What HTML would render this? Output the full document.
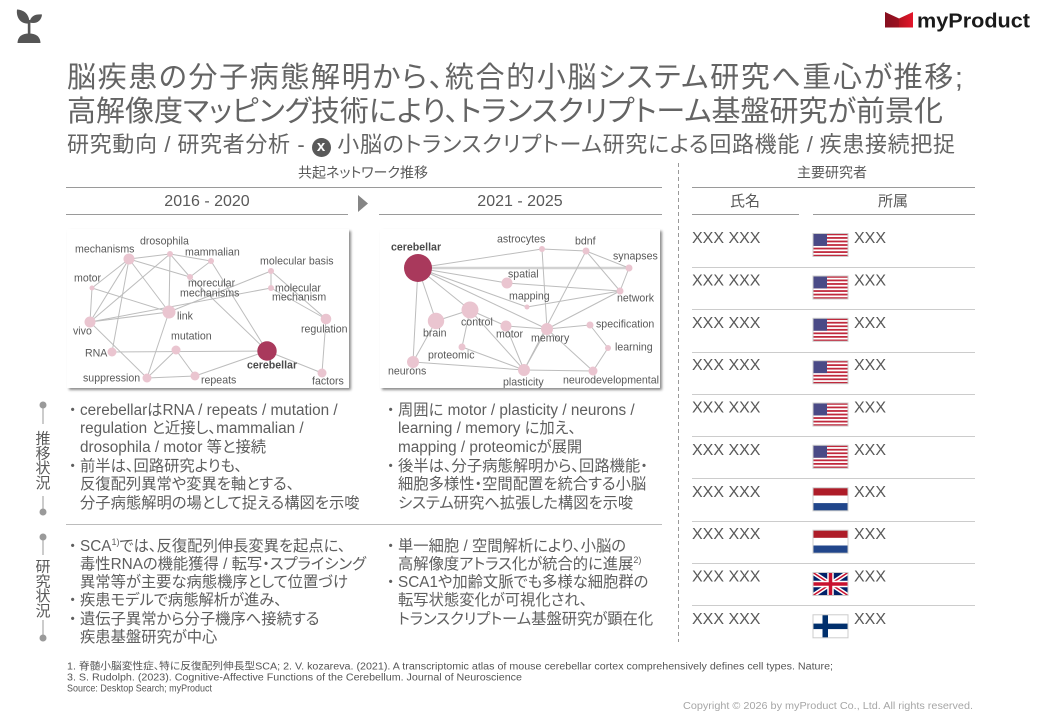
<!DOCTYPE html>
<html><head><meta charset="utf-8">
<style>
*{margin:0;padding:0;box-sizing:border-box}
html,body{width:1040px;height:720px;background:#fff;overflow:hidden}
body{position:relative;font-family:"Liberation Sans","Noto Sans CJK JP",sans-serif;color:#595959;font-feature-settings:"palt"}
.t{position:absolute;white-space:nowrap;text-align:justify;text-align-last:justify;color:#646464}
.blk{position:absolute;font-size:15.3px;color:#5e5e5e}
.blk div{position:relative;white-space:nowrap}
.b{position:absolute;left:-15px;width:15px;text-align:center;font-feature-settings:normal}
sup{font-size:9px;line-height:0;vertical-align:6px}
.xc{display:inline-block;width:19px;height:19px;border-radius:50%;background:#595959;color:#fff;font-size:15px;line-height:18px;text-align:center;font-weight:bold;vertical-align:1px;text-align-last:center}
</style></head><body>
<svg width="1040" height="720" style="position:absolute;left:0;top:0" xmlns="http://www.w3.org/2000/svg">
<defs>
<filter id="sh" x="-5%" y="-5%" width="115%" height="120%"><feDropShadow dx="2" dy="2" stdDeviation="1.3" flood-color="#000" flood-opacity="0.45"/></filter>
<linearGradient id="lg" x1="0" x2="1" y1="0" y2="0"><stop offset="0" stop-color="#7e0f1e"/><stop offset="0.5" stop-color="#b5121f"/><stop offset="1" stop-color="#e3162b"/></linearGradient>
<g id="us"><rect width="35" height="23" fill="#fff"/>
<g fill="#c0283c"><rect y="0" width="35" height="1.77"/><rect y="3.54" width="35" height="1.77"/><rect y="7.08" width="35" height="1.77"/><rect y="10.62" width="35" height="1.77"/><rect y="14.15" width="35" height="1.77"/><rect y="17.69" width="35" height="1.77"/><rect y="21.23" width="35" height="1.77"/></g>
<rect width="14" height="12.4" fill="#4a4a86"/><rect x="0" y="0" width="35" height="23" fill="none" stroke="#ccc" stroke-width="1"/></g>
<g id="nl"><rect width="35" height="7.7" fill="#ae1c28"/><rect y="7.7" width="35" height="7.6" fill="#fff"/><rect y="15.3" width="35" height="7.7" fill="#21468b"/><rect width="35" height="23" fill="none" stroke="#ccc"/></g>
<g id="uk"><rect width="35" height="23" fill="#012169"/><path d="M0,0L35,23M35,0L0,23" stroke="#fff" stroke-width="4.5"/><path d="M0,0L35,23M35,0L0,23" stroke="#c8102e" stroke-width="1.5"/><path d="M17.5,0V23M0,11.5H35" stroke="#fff" stroke-width="6.5"/><path d="M17.5,0V23M0,11.5H35" stroke="#c8102e" stroke-width="3.5"/><rect width="35" height="23" fill="none" stroke="#ccc"/></g>
<g id="fi"><rect width="35" height="23" fill="#fff"/><rect x="9.5" width="5.5" height="23" fill="#002f6c"/><rect y="8.8" width="35" height="5.5" fill="#002f6c"/><rect width="35" height="23" fill="none" stroke="#ccc"/></g>
</defs>
<!-- sprout icon -->
<g fill="#555">
<path d="M17.5,43 Q18,33.5 29,33.5 Q40,33.5 40.5,43 Z"/>
<rect x="27.8" y="20" width="2.6" height="15"/>
<path d="M29.5,23.5 C20,24.5 16,17 17,9.5 C25,10 29.5,15 29.5,23.5 Z"/>
<path d="M29.5,22.5 C30.5,16 35,14 42,14.5 C41.5,21 36,24.5 29.5,22.5 Z"/>
</g>
<!-- logo -->
<polygon points="885,12 899,18.5 913,12 913,27.5 885,27.5" fill="url(#lg)"/>
<polygon points="899,18.5 899,27.5 885,27.5 885,12" fill="#8a1020" opacity="0.55"/>
<text x="917" y="27.5" font-family="Liberation Sans" font-weight="bold" font-size="20" fill="#1a1a1a" textLength="113" lengthAdjust="spacingAndGlyphs">myProduct</text>

<!-- headers -->
<g font-family="Liberation Sans, Noto Sans CJK JP, sans-serif" fill="#595959">
<text x="363" y="177.5" font-size="14" text-anchor="middle">共起ネットワーク推移</text>
<text x="207" y="205.8" font-size="16" text-anchor="middle">2016 - 2020</text>
<text x="520" y="205.8" font-size="16" text-anchor="middle">2021 - 2025</text>
<text x="832" y="177.5" font-size="14" text-anchor="middle">主要研究者</text>
<text x="745" y="205.8" font-size="15" text-anchor="middle">氏名</text>
<text x="893" y="205.8" font-size="15" text-anchor="middle">所属</text>
</g>
<g stroke="#9a9a9a" stroke-width="1">
<line x1="66" y1="187.5" x2="662" y2="187.5"/>
<line x1="66" y1="214.5" x2="348" y2="214.5"/>
<line x1="379" y1="214.5" x2="662" y2="214.5"/>
<line x1="692" y1="187.5" x2="975" y2="187.5"/>
<line x1="692" y1="214.5" x2="799" y2="214.5"/>
<line x1="813" y1="214.5" x2="975" y2="214.5"/>
</g>
<polygon points="358,195 368,203.5 358,212" fill="#858585"/>
<line x1="678.5" y1="163" x2="678.5" y2="642" stroke="#999" stroke-width="1" stroke-dasharray="4,3"/>
<line x1="66" y1="524.5" x2="662" y2="524.5" stroke="#bcbcbc" stroke-width="1"/>

<!-- vertical labels -->
<g stroke="#9a9a9a" stroke-width="1" fill="#9a9a9a">
<line x1="43" y1="405" x2="43" y2="424"/><circle cx="43" cy="405" r="3.5" stroke="none"/>
<line x1="43" y1="496" x2="43" y2="512"/><circle cx="43" cy="512" r="3.5" stroke="none"/>
<line x1="43" y1="537" x2="43" y2="555"/><circle cx="43" cy="537" r="3.5" stroke="none"/>
<line x1="43" y1="620" x2="43" y2="638"/><circle cx="43" cy="638" r="3.5" stroke="none"/>
</g>
<g font-family="Liberation Sans, Noto Sans CJK JP, sans-serif" font-size="15" fill="#595959" text-anchor="middle">
<text x="43" y="443.7">推</text><text x="43" y="458.5">移</text><text x="43" y="473.2">状</text><text x="43" y="488">況</text>
<text x="43" y="571.7">研</text><text x="43" y="586.5">究</text><text x="43" y="601.2">状</text><text x="43" y="616">況</text>
</g>

<!-- graph boxes -->
<rect x="67" y="229" width="282" height="159" fill="#fff" filter="url(#sh)"/>
<rect x="380" y="229" width="280" height="159" fill="#fff" filter="url(#sh)"/>

<!-- left graph edges -->
<g stroke="#bdbdbd" stroke-width="1">
<line x1="129" y1="259" x2="170" y2="254"/>
<line x1="129" y1="259" x2="190" y2="277"/>
<line x1="129" y1="259" x2="92" y2="288"/>
<line x1="129" y1="259" x2="90" y2="322"/>
<line x1="129" y1="259" x2="169" y2="312"/>
<line x1="129" y1="259" x2="112" y2="352"/>
<line x1="170" y1="254" x2="211" y2="261"/>
<line x1="170" y1="254" x2="190" y2="277"/>
<line x1="170" y1="254" x2="169" y2="312"/>
<line x1="170" y1="254" x2="90" y2="322"/>
<line x1="211" y1="261" x2="190" y2="277"/>
<line x1="211" y1="261" x2="267" y2="351"/>
<line x1="190" y1="277" x2="267" y2="351"/>
<line x1="92" y1="288" x2="169" y2="312"/>
<line x1="92" y1="288" x2="90" y2="322"/>
<line x1="169" y1="312" x2="90" y2="322"/>
<line x1="169" y1="312" x2="271" y2="271"/>
<line x1="90" y1="322" x2="271" y2="288"/>
<line x1="271" y1="271" x2="271" y2="288"/>
<line x1="271" y1="271" x2="326" y2="319"/>
<line x1="271" y1="288" x2="326" y2="319"/>
<line x1="326" y1="319" x2="322" y2="373"/>
<line x1="267" y1="351" x2="322" y2="373"/>
<line x1="90" y1="322" x2="147" y2="378"/>
<line x1="112" y1="352" x2="267" y2="351"/>
<line x1="169" y1="312" x2="147" y2="378"/>
<line x1="147" y1="378" x2="176" y2="350"/>
<line x1="147" y1="378" x2="195" y2="376"/>
<line x1="176" y1="350" x2="195" y2="376"/>
<line x1="195" y1="376" x2="267" y2="351"/>
</g>
<g fill="#eac5d0">
<circle cx="129" cy="259" r="5.5"/><circle cx="170" cy="254" r="3"/><circle cx="211" cy="261" r="3"/><circle cx="190" cy="277" r="3"/>
<circle cx="271" cy="271" r="3"/><circle cx="271" cy="288" r="3"/><circle cx="92" cy="288" r="2.5"/><circle cx="169" cy="312" r="6.5"/>
<circle cx="90" cy="322" r="5.5"/><circle cx="326" cy="319" r="5.3"/><circle cx="176" cy="350" r="4.5"/><circle cx="112" cy="352" r="4.5"/>
<circle cx="147" cy="378" r="4.5"/><circle cx="195" cy="376" r="4.5"/><circle cx="322" cy="373" r="4.5"/>
</g>
<circle cx="267" cy="351" r="9.7" fill="#a9395c"/>
<g font-family="Liberation Sans, sans-serif" font-size="10.6" fill="#595959">
<text x="75" y="252.7">mechanisms</text>
<text x="140" y="244.7">drosophila</text>
<text x="185" y="255.7">mammalian</text>
<text x="188" y="286.7">morecular</text>
<text x="180" y="296.7">mechanisms</text>
<text x="260" y="264.7">molecular basis</text>
<text x="275" y="291.7">molecular</text>
<text x="272" y="300.7">mechanism</text>
<text x="74" y="281.7">motor</text>
<text x="177" y="319.7">link</text>
<text x="73" y="334.7">vivo</text>
<text x="301" y="332.7">regulation</text>
<text x="171" y="339.7">mutation</text>
<text x="85" y="356.7">RNA</text>
<text x="247" y="368.7" font-weight="bold" fill="#4a4a4a">cerebellar</text>
<text x="83" y="381.7">suppression</text>
<text x="201" y="383.7">repeats</text>
<text x="312" y="384.7">factors</text>
</g>

<!-- right graph edges -->
<line x1="418" y1="268" x2="629" y2="268" stroke="#d2d2d2" stroke-width="2.5"/>
<g stroke="#bdbdbd" stroke-width="1">
<line x1="418" y1="268" x2="542" y2="249"/>
<line x1="418" y1="268" x2="507" y2="283"/>
<line x1="418" y1="268" x2="527" y2="307"/>
<line x1="418" y1="268" x2="547" y2="329"/>
<line x1="418" y1="268" x2="470" y2="310"/>
<line x1="418" y1="268" x2="436" y2="321"/>
<line x1="418" y1="268" x2="413" y2="362"/>
<line x1="542" y1="249" x2="586" y2="251"/>
<line x1="542" y1="249" x2="547" y2="329"/>
<line x1="586" y1="251" x2="629" y2="268"/>
<line x1="586" y1="251" x2="620" y2="291"/>
<line x1="586" y1="251" x2="524" y2="370"/>
<line x1="629" y1="268" x2="620" y2="291"/>
<line x1="507" y1="283" x2="620" y2="291"/>
<line x1="527" y1="307" x2="620" y2="291"/>
<line x1="547" y1="329" x2="620" y2="291"/>
<line x1="470" y1="310" x2="436" y2="321"/>
<line x1="470" y1="310" x2="506" y2="326"/>
<line x1="506" y1="326" x2="547" y2="329"/>
<line x1="470" y1="310" x2="462" y2="347"/>
<line x1="470" y1="310" x2="524" y2="370"/>
<line x1="506" y1="326" x2="524" y2="370"/>
<line x1="547" y1="329" x2="524" y2="370"/>
<line x1="547" y1="329" x2="590" y2="325"/>
<line x1="547" y1="329" x2="593" y2="371"/>
<line x1="590" y1="325" x2="608" y2="348"/>
<line x1="608" y1="348" x2="593" y2="371"/>
<line x1="436" y1="321" x2="413" y2="362"/>
<line x1="413" y1="362" x2="524" y2="370"/>
<line x1="462" y1="347" x2="524" y2="370"/>
<line x1="524" y1="370" x2="593" y2="371"/>
</g>
<g fill="#eac5d0">
<circle cx="542" cy="249" r="3"/><circle cx="586" cy="251" r="3.5"/><circle cx="629" cy="268" r="3.5"/><circle cx="507" cy="283" r="5.5"/>
<circle cx="527" cy="307" r="2.5"/><circle cx="620" cy="291" r="3.5"/><circle cx="470" cy="310" r="8.5"/><circle cx="436" cy="321" r="8.2"/>
<circle cx="506" cy="326" r="5.5"/><circle cx="547" cy="329" r="6"/><circle cx="590" cy="325" r="3.5"/><circle cx="608" cy="348" r="3"/>
<circle cx="462" cy="347" r="3.5"/><circle cx="413" cy="362" r="6"/><circle cx="524" cy="370" r="6"/><circle cx="593" cy="371" r="4.5"/>
</g>
<circle cx="418" cy="268" r="14" fill="#a9395c"/>
<g font-family="Liberation Sans, sans-serif" font-size="10.6" fill="#595959">
<text x="391" y="250.7" font-weight="bold" fill="#4a4a4a">cerebellar</text>
<text x="497" y="242.7">astrocytes</text>
<text x="575" y="244.7">bdnf</text>
<text x="613" y="259.7">synapses</text>
<text x="508" y="277.7">spatial</text>
<text x="509" y="299.7">mapping</text>
<text x="617" y="301.7">network</text>
<text x="461" y="325.7">control</text>
<text x="423" y="336.7">brain</text>
<text x="496" y="337.7">motor</text>
<text x="531" y="341.7">memory</text>
<text x="596" y="327.7">specification</text>
<text x="615" y="350.7">learning</text>
<text x="428" y="358.7">proteomic</text>
<text x="388" y="374.7">neurons</text>
<text x="503" y="385.7">plasticity</text>
<text x="563" y="383.7">neurodevelopmental</text>
</g>

<!-- table -->
<g stroke="#cccccc" stroke-width="1">
<line x1="692" y1="267.5" x2="975" y2="267.5"/>
<line x1="692" y1="309.5" x2="975" y2="309.5"/>
<line x1="692" y1="352.5" x2="975" y2="352.5"/>
<line x1="692" y1="394.5" x2="975" y2="394.5"/>
<line x1="692" y1="436.5" x2="975" y2="436.5"/>
<line x1="692" y1="478.5" x2="975" y2="478.5"/>
<line x1="692" y1="521.5" x2="975" y2="521.5"/>
<line x1="692" y1="563.5" x2="975" y2="563.5"/>
<line x1="692" y1="605.5" x2="975" y2="605.5"/>
</g>
<g font-family="Liberation Sans, sans-serif" font-size="16" fill="#595959">
<text x="692" y="243">XXX XXX</text><text x="854" y="243">XXX</text>
<text x="692" y="285.5">XXX XXX</text><text x="854" y="285.5">XXX</text>
<text x="692" y="327.8">XXX XXX</text><text x="854" y="327.8">XXX</text>
<text x="692" y="370.2">XXX XXX</text><text x="854" y="370.2">XXX</text>
<text x="692" y="412.5">XXX XXX</text><text x="854" y="412.5">XXX</text>
<text x="692" y="454.8">XXX XXX</text><text x="854" y="454.8">XXX</text>
<text x="692" y="496.8">XXX XXX</text><text x="854" y="496.8">XXX</text>
<text x="692" y="539.2">XXX XXX</text><text x="854" y="539.2">XXX</text>
<text x="692" y="581.5">XXX XXX</text><text x="854" y="581.5">XXX</text>
<text x="692" y="623.8">XXX XXX</text><text x="854" y="623.8">XXX</text>
</g>
<use href="#us" x="813" y="233.5"/>
<use href="#us" x="813" y="276"/>
<use href="#us" x="813" y="318.3"/>
<use href="#us" x="813" y="360.7"/>
<use href="#us" x="813" y="403"/>
<use href="#us" x="813" y="445.3"/>
<use href="#nl" x="813" y="487.8"/>
<use href="#nl" x="813" y="530.2"/>
<use href="#uk" x="813" y="572.5"/>
<use href="#fi" x="813" y="614.8"/>

<!-- footer -->
<g font-family="Liberation Sans, Noto Sans CJK JP, sans-serif" font-size="10" fill="#555">
<text x="67" y="669.5" textLength="766" lengthAdjust="spacingAndGlyphs">1. 脊髄小脳変性症、特に反復配列伸長型SCA; 2. V. kozareva. (2021). A transcriptomic atlas of mouse cerebellar cortex comprehensively defines cell types. Nature;</text>
<text x="67" y="680.5" textLength="455" lengthAdjust="spacingAndGlyphs">3. S. Rudolph. (2023). Cognitive-Affective Functions of the Cerebellum. Journal of Neuroscience</text>
<text x="67" y="691.5" textLength="145" lengthAdjust="spacingAndGlyphs">Source: Desktop Search; myProduct</text>
</g>
<text x="683" y="709" font-family="Liberation Sans, sans-serif" font-size="10.5" fill="#a6a6a6" textLength="290" lengthAdjust="spacingAndGlyphs">Copyright © 2026 by myProduct Co., Ltd.  All rights reserved.</text>
</svg>

<!-- titles -->
<div class="t" style="left:67px;top:61px;width:896px;font-size:29px;line-height:34px">脳疾患の分子病態解明から、統合的小脳システム研究へ重心が推移;</div>
<div class="t" style="left:67px;top:94.5px;width:876px;font-size:29px;line-height:34px">高解像度マッピング技術により、トランスクリプトーム基盤研究が前景化</div>
<div class="t" style="left:67px;top:132px;width:888px;font-size:22px;line-height:26px">研究動向 / 研究者分析 - <span class="xc">x</span> 小脳のトランスクリプトーム研究による回路機能 / 疾患接続把捉</div>

<!-- body text -->
<div class="blk" style="left:80px;top:401.5px;line-height:18.7px">
<div><span class="b">・</span>cerebellarはRNA / repeats / mutation /</div>
<div>regulation と近接し、mammalian /</div>
<div>drosophila / motor 等と接続</div>
<div><span class="b">・</span>前半は、回路研究よりも、</div>
<div>反復配列異常や変異を軸とする、</div>
<div>分子病態解明の場として捉える構図を示唆</div>
</div>
<div class="blk" style="left:80px;top:537.5px;line-height:18.3px">
<div><span class="b">・</span>SCA<sup>1)</sup>では、反復配列伸長変異を起点に、</div>
<div>毒性RNAの機能獲得 / 転写・スプライシング</div>
<div>異常等が主要な病態機序として位置づけ</div>
<div><span class="b">・</span>疾患モデルで病態解析が進み、</div>
<div><span class="b">・</span>遺伝子異常から分子機序へ接続する</div>
<div>疾患基盤研究が中心</div>
</div>
<div class="blk" style="left:398px;top:401.5px;line-height:18.7px">
<div><span class="b">・</span>周囲に motor / plasticity / neurons /</div>
<div>learning / memory に加え、</div>
<div>mapping / proteomicが展開</div>
<div><span class="b">・</span>後半は、分子病態解明から、回路機能・</div>
<div>細胞多様性・空間配置を統合する小脳</div>
<div>システム研究へ拡張した構図を示唆</div>
</div>
<div class="blk" style="left:398px;top:537.5px;line-height:18.3px">
<div><span class="b">・</span>単一細胞 / 空間解析により、小脳の</div>
<div>高解像度アトラス化が統合的に進展<sup>2)</sup></div>
<div><span class="b">・</span>SCA1や加齢文脈でも多様な細胞群の</div>
<div>転写状態変化が可視化され、</div>
<div>トランスクリプトーム基盤研究が顕在化</div>
</div>
</body></html>
